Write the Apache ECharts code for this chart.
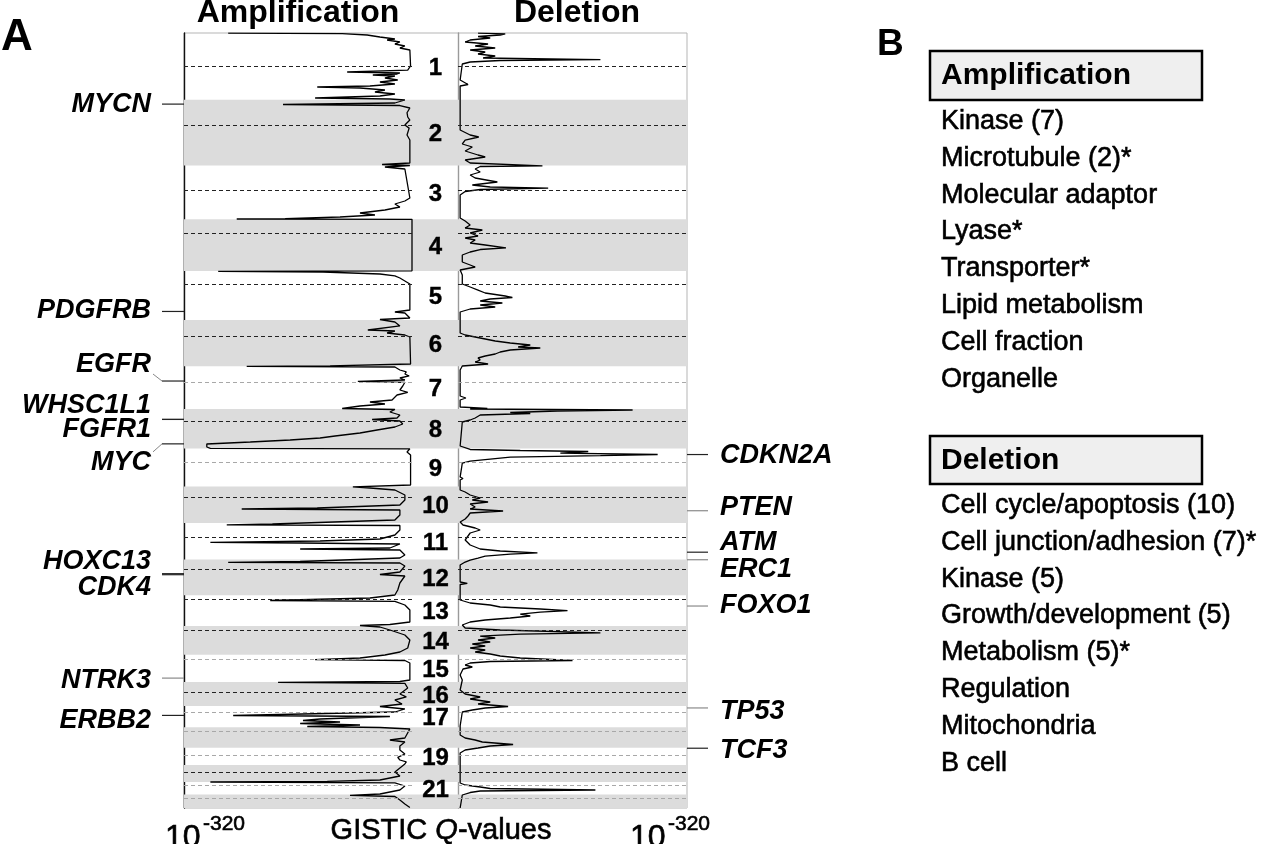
<!DOCTYPE html>
<html>
<head>
<meta charset="utf-8">
<title>GISTIC Q-values</title>
<script src="https://cdn.jsdelivr.net/npm/echarts@6/dist/echarts.min.js"></script>
<style>
  html, body { margin: 0; padding: 0; background: #fff; }
  #chart { width: 1280px; height: 844px; }
</style>
</head>
<body>
<div id="chart"></div>
<script>
// chromosome layout (hg18, Mb)
const chromNames = ['1','2','3','4','5','6','7','8','9','10','11','12','13','14','15','16','17','18','19','20','21','22']
const chromLengths = [247.2, 242.8, 199.5, 191.3, 180.9, 170.9, 158.8, 146.3, 140.3, 135.4, 134.5, 132.3, 114.1, 106.4, 100.3, 88.8, 78.8, 76.1, 63.8, 62.4, 46.9, 49.7]
const centromeres = [124.3, 93.3, 91.7, 50.7, 47.7, 60.5, 59.1, 45.2, 51.8, 40.3, 52.9, 35.4, 16.0, 15.6, 17.0, 38.2, 22.2, 16.1, 28.5, 27.1, 12.3, 11.8]
const chromLabels = ['1','2','3','4','5','6','7','8','9','10','11','12','13','14','15','16','17','','19','','21','']

// GISTIC profiles: [genome position (Mb, cumulative), -log10 Q]
const ampProfile = [
  [0.7,258],[2.2,98],[7.4,63],[14.8,45],[22.2,24],[25.9,35],[33.3,17],[40.7,24],[48.1,10],[55.5,17],[62.9,3],[122,2],[137,6],[144.3,91],[148,17],[151.7,21],[155.4,55],[159.1,24],[166.5,38],[173.9,20],[181.3,45],[188.7,24],[196.1,59],[199.8,133],[203.5,73],[210.9,38],[218.3,52],[225.7,24],[233.1,45],[240.5,136],[244.2,31],
  [247.9,10],[259,24],[264.6,181],[268.3,17],[277.5,3],[295,7],[310.8,6],[322,3],[340.4,10],[352,4],[377.4,7],[396,3],[481,3],[486.6,42],[490.3,3],
  [495.8,38],[503.2,10],[610.5,3],[621.6,10],[632.7,24],[643.8,17],[654.9,38],[666,73],[673.4,52],[680.8,101],[686.7,178],[688.2,246],[689.3,0],
  [784.4,0],[879.9,0],
  [881.7,272],[884.3,125],[891.7,45],[899,24],[906.5,17],[917.6,10],[928.7,3],[1024.9,3],[1032.3,24],[1036,10],[1054.5,3],
  [1060,45],[1069.3,24],[1084,17],[1098.9,62],[1102.6,24],[1110,35],[1117.4,10],[1124.8,3],[1224.7,2],[1231.4,115],[1233.2,232],[1235.8,24],
  [1246.9,17],[1254,8],[1261.7,10],[1269,4],[1276.5,17],[1283.9,10],[1288.7,76],[1292.4,10],[1306.1,13],[1320.9,17],[1330,6],[1339.4,21],[1357.9,28],[1365.3,59],[1372.7,38],[1380.1,73],[1389.4,98],[1393,24],
  [1402.3,31],[1413.4,17],[1424.5,21],[1430,56],[1435.6,17],[1446.7,13],[1457.8,24],[1468.9,49],[1480,73],[1491.1,108],[1498.5,129],[1505.9,171],[1513.3,227],[1520.7,288],[1531.8,288],[1536.6,283],[1538.5,3],
  [1550.3,7],[1561.4,2],[1672.4,2],[1679.1,83],[1683.5,59],[1690.9,24],[1709.4,10],[1727.9,10],[1746.4,17],[1757.5,133],[1761.2,239],[1764.9,17],[1783.4,17],[1801.9,24],[1816.7,196],[1819.7,260],[1822.3,17],
  [1839,17],[1857.4,24],[1872.2,45],[1879.6,129],[1884.4,283],[1887,157],[1890.7,17],[1905.5,31],[1909.2,157],[1912.9,17],[1931.4,10],[1942.5,17],[1955.5,157],[1958.4,258],[1961,17],
  [1972.1,10],[1994.3,17],[2003.6,45],[2009.1,10],[2035,17],[2060.9,20],[2079.4,24],[2090.5,59],[2099.8,199],[2102.7,24],
  [2116.4,10],[2134.9,3],[2179.3,3],[2188.6,31],[2192.3,73],[2197.8,45],
  [2208.9,31],[2227.4,10],[2245.9,3],[2275.5,6],[2290.3,17],[2301.4,38],[2312.5,73],[2318.8,136],[2321.8,10],
  [2331,3],[2393.9,3],[2399.5,17],[2403,188],[2406.5,10],
  [2423.5,6],[2445.7,17],[2456,8],[2467.9,24],[2482.7,14],[2492,45],
  [2501.2,10],[2512.3,24],[2525.3,251],[2529,31],[2538.2,129],[2543.8,153],[2549.3,101],[2554.9,157],[2560.4,73],[2566,147],[2569.7,45],
  [2575.2,3],[2608.5,10],[2615.9,31],[2623.3,10],[2638.1,17],[2652.9,17],
  [2667.7,10],[2680,20],[2689.9,17],[2697,8],[2704.7,10],
  [2719.5,17],[2734.3,24],[2749.1,17],[2763.9,45],[2768.7,119],[2771.3,283],[2774.3,24],
  [2786.1,10],[2800.9,17],[2815.7,45],[2820.5,87],[2824.9,24],
  [2837.9,17],[2852.7,10],[2865.7,3]
]

const delProfile = [
  [0.7,28],[3,66],[7.4,59],[13,28],[18.5,45],[25.9,17],[33.3,10],[40.7,42],[48.1,24],[55.5,52],[62.9,17],[70.3,38],[77.7,28],[85.1,52],[92.5,35],[98.8,199],[101.8,59],[107.3,17],[114.7,6],[173.9,3],[190.6,14],[196.1,3],
  [358.9,3],[377.4,17],[384.8,29],[396,10],[410.7,6],[421.8,20],[436.6,10],[451.4,28],[458.8,38],[469.9,10],[481,17],[491.4,118],[494,31],
  [503.2,24],[514.3,31],[525.4,17],[536.5,24],[551.3,55],[562.4,20],[569.8,45],[574.2,126],[579,31],[586.5,10],[599.4,3],[684.5,3],
  [695.6,10],[710.4,17],[721.5,10],[728.9,34],[740,17],[751.1,28],[758.5,10],[765.9,24],[777,17],[784.4,38],[794.8,67],[801.1,31],[810.3,17],[821.4,6],[847.3,6],[858.4,17],[865.8,24],[876.9,3],
  [895.4,6],[928.7,6],[939.8,17],[951,28],[962,38],[973.1,66],[978.7,76],[984.2,45],[991.6,31],[999,62],[1006.4,31],[1013.8,52],[1021.2,17],[1032.3,3],
  [1110,3],[1117.4,10],[1124.8,24],[1132.2,38],[1139.6,52],[1147,73],[1154.4,101],[1161.8,84],[1165.5,115],[1172.9,73],[1180.3,59],[1187.7,52],[1195.1,38],[1202.5,28],[1209.9,31],[1217.3,24],[1224.7,42],[1232.1,6],
  [1246.9,3],[1343.1,3],[1350.5,11],[1357.9,3],[1383.8,3],
  [1388.6,41],[1391.2,17],[1394.9,244],[1398.6,139],[1404.2,73],[1407.9,101],[1413.4,31],[1424.5,24],[1431.9,17],[1439.3,6],[1528.1,3],
  [1541,17],[1544.8,87],[1548.5,182],[1554.1,143],[1559.6,279],[1563.4,199],[1568.9,73],[1576.3,45],[1583.7,17],[1591.1,6],[1642.9,3],[1648.4,7],[1653.9,3],
  [1690.9,3],[1698.3,10],[1709.4,17],[1720.5,31],[1727.9,20],[1735.3,42],[1742.7,17],[1753.8,24],[1761.2,17],[1768.6,63],[1776,17],[1787.1,14],[1798.2,10],[1809.3,3],
  [1820.4,7],[1831.5,24],[1838.9,31],[1850,17],[1861.1,14],[1875.9,10],[1894.4,17],[1909.2,31],[1916.6,59],[1923.4,111],[1927.8,73],[1935.2,38],[1942.6,28],[1950,17],[1957.4,10],
  [1968.4,3],[2031.3,3],[2036.1,13],[2040.6,3],[2097.9,3],
  [2109,17],[2116.4,45],[2123.8,59],[2131.2,115],[2136.9,153],[2142.4,115],[2149.8,87],[2157.1,101],[2164.5,73],[2171.9,38],[2179.3,17],[2190.4,6],
  [2201.5,10],[2208.9,59],[2219.3,199],[2223.8,87],[2231.2,31],[2238.5,52],[2245.9,28],[2253.3,45],[2260.7,20],[2268.1,38],[2275.5,17],[2282.9,38],[2290.3,24],[2297.7,45],[2305.1,59],[2312.5,87],[2321.8,160],[2325.5,45],[2331,17],
  [2338.4,10],[2345.8,20],[2353.2,7],[2375.4,3],[2393.9,6],
  [2430.9,3],[2445.7,10],[2456.8,31],[2464.2,17],[2475.3,45],[2482.7,28],[2492,70],[2497.5,38],[2504.9,20],[2512.3,6],
  [2564.1,3],
  [2597.4,3],[2608.5,10],[2615.9,24],[2623.3,34],[2632.6,77],[2638.1,45],[2645.5,28],[2652.9,10],[2664,3],
  [2726.9,3],[2775,3],
  [2782.4,10],[2789.8,31],[2795.4,45],[2800.9,192],[2804.6,31],[2810.2,17],[2819.4,6],
  [2867.5,3]
]

// annotated genes: chromosome and position (Mb)
const ampGenes = ['MYCN', 'PDGFRB', 'EGFR', 'WHSC1L1', 'FGFR1', 'MYC', 'HOXC13', 'CDK4', 'NTRK3', 'ERBB2']
const ampGeneChrom = [2, 5, 7, 8, 8, 8, 12, 12, 15, 17]
const ampGeneMb = [15.9, 149.5, 55.1, 38.3, 38.4, 128.8, 52.6, 56.4, 86.2, 35.1]
const delGenes = ['CDKN2A', 'PTEN', 'ATM', 'ERC1', 'FOXO1', 'TP53', 'TCF3']
const delGeneChrom = [9, 10, 11, 12, 13, 17, 19]
const delGeneMb = [22.0, 89.6, 107.6, 1.0, 40.0, 7.5, 1.6]

// panel B
const ampTerms = ['Kinase (7)', 'Microtubule (2)*', 'Molecular adaptor', 'Lyase*', 'Transporter*', 'Lipid metabolism', 'Cell fraction', 'Organelle']
const delTerms = ['Cell cycle/apoptosis (10)', 'Cell junction/adhesion (7)*', 'Kinase (5)', 'Growth/development (5)', 'Metabolism (5)*', 'Regulation', 'Mitochondria', 'B cell']

// ---- styling / layout ----
const FONT = '"Liberation Sans", Arial, Helvetica, sans-serif'
const TOP = 33, HEIGHT = 775
const faintCentro = ['7', '9', '15', '17', '18', '19', '21', '22']
const ampLabelShift = { MYCN: 0, PDGFRB: -1, EGFR: -16, WHSC1L1: -14, FGFR1: 10, MYC: 19, HOXC13: -12, CDK4: 13, NTRK3: 2, ERBB2: 5 }
const ampElbow = { EGFR: true, MYC: true }
const delLabelShift = { CDKN2A: 1, PTEN: -3, ATM: -10, ERC1: 10, FOXO1: 0, TP53: 4, TCF3: 2 }
const faintLeaders = ['NTRK3', 'PTEN', 'ERC1', 'FOXO1', 'TP53']

const chromStart = []
chromLengths.reduce((acc, len, i) => { chromStart[i] = acc; return acc + len }, 0)
const genomeLen = chromLengths.reduce((a, b) => a + b, 0)

const bands = []
chromNames.forEach((c, i) => {
  if (i % 2 === 1) bands.push([{ xAxis: 0, yAxis: chromStart[i] }, { xAxis: 1, yAxis: chromStart[i] + chromLengths[i] }])
})

const centroLines = chromNames.map((c, i) => ({
  yAxis: chromStart[i] + centromeres[i],
  lineStyle: { color: faintCentro.includes(c) ? '#a8a8a8' : '#222' },
}))

const labelData = chromLabels.map((l, i) => [0.5, chromStart[i] + chromLengths[i] / 2, l])

function yAxisCfg(showLine, color) {
  return {
    type: 'value', min: 0, max: genomeLen, inverse: true, position: 'left',
    axisLine: { show: showLine, onZero: false, lineStyle: { color, width: 1.4 } },
    axisTick: { show: false }, axisLabel: { show: false }, splitLine: { show: false },
  }
}
function xAxisCfg(inverse) {
  return {
    type: 'value', min: 0, max: inverse === null ? 1 : 320, inverse: !!inverse, show: false,
  }
}

function geneRenderer(names, shifts, side) {
  return function (params, api) {
    const name = names[api.value(2)]
    const p = api.coord([side === 'left' ? 0 : 1, api.value(1)])
    const x0 = p[0], y = p[1]
    const dy = shifts[name] || 0
    const lineStyle = { stroke: faintLeaders.includes(name) ? '#8a8a8a' : '#222', lineWidth: 1.2 }
    const font = 'italic bold 27px ' + FONT
    const children = []
    if (side === 'left') {
      const xs = x0 - 22
      children.push({ type: 'line', shape: { x1: xs, y1: y, x2: x0, y2: y }, style: lineStyle })
      if (ampElbow[name]) {
        children.push({ type: 'line', shape: { x1: xs - 9, y1: y + (dy > 0 ? 8 : -7), x2: xs, y2: y }, style: { stroke: '#888', lineWidth: 1 } })
      }
      children.push({ type: 'text', style: { text: name, x: x0 - 33, y: y + dy, align: 'right', textAlign: 'right', verticalAlign: 'middle', textVerticalAlign: 'middle', font, fill: '#000' } })
    } else {
      children.push({ type: 'line', shape: { x1: x0, y1: y, x2: x0 + 21, y2: y }, style: lineStyle })
      children.push({ type: 'text', style: { text: name, x: x0 + 33, y: y + dy, align: 'left', textAlign: 'left', verticalAlign: 'middle', textVerticalAlign: 'middle', font, fill: '#000' } })
    }
    return { type: 'group', children }
  }
}

function txt(text, x, y, font, align, heavy) {
  const style = { text, font: font + ' ' + FONT, fill: '#000', textAlign: align || 'left', textVerticalAlign: 'middle' }
  if (heavy) { style.stroke = '#000'; style.lineWidth = 0.6 }
  return { type: 'text', x, y, style }
}

const graphics = [
  txt('A', 1, 38, 'bold 44px'),
  txt('Amplification', 298, 13, 'bold 32px', 'center'),
  txt('Deletion', 577, 13, 'bold 32px', 'center'),
  txt('10', 165, 838, '32px', 'left', true),
  txt('-320', 203, 824, '21px', 'left', true),
  txt('10', 630, 838, '32px', 'left', true),
  txt('-320', 668, 824, '21px', 'left', true),
  {
    type: 'text', x: 441, y: 831,
    style: {
      text: '{n|GISTIC }{i|Q}{n|-values}', textAlign: 'center', textVerticalAlign: 'middle',
      rich: {
        n: { font: '29px ' + FONT, fill: '#000', stroke: '#000', lineWidth: 0.6 },
        i: { font: 'italic 29px ' + FONT, fill: '#000', stroke: '#000', lineWidth: 0.6 },
      },
    },
  },
  txt('B', 877, 45, 'bold 37px'),
  { type: 'rect', shape: { x: 930, y: 51, width: 272, height: 49 }, style: { fill: '#efefef', stroke: '#000', lineWidth: 2.5 } },
  txt('Amplification', 941, 76, 'bold 30px'),
  { type: 'rect', shape: { x: 930, y: 436, width: 272, height: 48 }, style: { fill: '#efefef', stroke: '#000', lineWidth: 2.5 } },
  txt('Deletion', 941, 461, 'bold 30px'),
]
ampTerms.forEach((t, i) => graphics.push(txt(t, 941, 121.5 + i * 36.8, '27px', 'left', true)))
delTerms.forEach((t, i) => graphics.push(txt(t, 941, 505.5 + i * 36.8, '27px', 'left', true)))

const chart = echarts.init(document.getElementById('chart'), null, { renderer: 'canvas' })
chart.setOption({
  backgroundColor: '#fff',
  animation: false,
  grid: [
    { left: 184, top: TOP, width: 503, height: HEIGHT, show: true, borderColor: '#b5b5b5', borderWidth: 1, backgroundColor: 'transparent' },
    { left: 184, top: TOP, width: 228, height: HEIGHT },
    { left: 458, top: TOP, width: 229, height: HEIGHT },
  ],
  xAxis: [
    Object.assign(xAxisCfg(null), { gridIndex: 0 }),
    Object.assign(xAxisCfg(true), { gridIndex: 1 }),
    Object.assign(xAxisCfg(false), { gridIndex: 2 }),
  ],
  yAxis: [
    Object.assign(yAxisCfg(false, '#000'), { gridIndex: 0 }),
    Object.assign(yAxisCfg(true, '#111'), { gridIndex: 1 }),
    Object.assign(yAxisCfg(true, '#9a9a9a'), { gridIndex: 2 }),
  ],
  graphic: graphics,
  series: [
    {
      type: 'scatter', xAxisIndex: 0, yAxisIndex: 0, symbolSize: 0, silent: true, z: 1,
      itemStyle: { opacity: 1 },
      data: labelData,
      label: {
        show: true, position: 'inside', offset: [0, 2],
        formatter: p => p.value[2],
        fontFamily: FONT, fontWeight: 'bold', fontSize: 24, color: '#000',
        textBorderColor: '#000', textBorderWidth: 0.4,
      },
      markArea: { silent: true, itemStyle: { color: '#dcdcdc', opacity: 1 }, data: bands },
    },
    {
      type: 'line', xAxisIndex: 1, yAxisIndex: 1, z: 3,
      showSymbol: false, silent: true,
      lineStyle: { color: '#000', width: 1.3 },
      data: ampProfile.map(d => [d[1], d[0]]),
      markLine: { silent: true, symbol: ['none', 'none'], label: { show: false }, lineStyle: { type: [4, 3], width: 1 }, data: centroLines },
    },
    {
      type: 'line', xAxisIndex: 2, yAxisIndex: 2, z: 3,
      showSymbol: false, silent: true,
      lineStyle: { color: '#000', width: 1.3 },
      data: delProfile.map(d => [d[1], d[0]]),
      markLine: { silent: true, symbol: ['none', 'none'], label: { show: false }, lineStyle: { type: [4, 3], width: 1 }, data: centroLines },
    },
    {
      type: 'custom', xAxisIndex: 0, yAxisIndex: 0, silent: true, z: 4,
      renderItem: geneRenderer(ampGenes, ampLabelShift, 'left'),
      data: ampGenes.map((g, i) => [0, chromStart[ampGeneChrom[i] - 1] + ampGeneMb[i], i]),
    },
    {
      type: 'custom', xAxisIndex: 0, yAxisIndex: 0, silent: true, z: 4,
      renderItem: geneRenderer(delGenes, delLabelShift, 'right'),
      data: delGenes.map((g, i) => [1, chromStart[delGeneChrom[i] - 1] + delGeneMb[i], i]),
    },
  ],
})
</script>
</body>
</html>
